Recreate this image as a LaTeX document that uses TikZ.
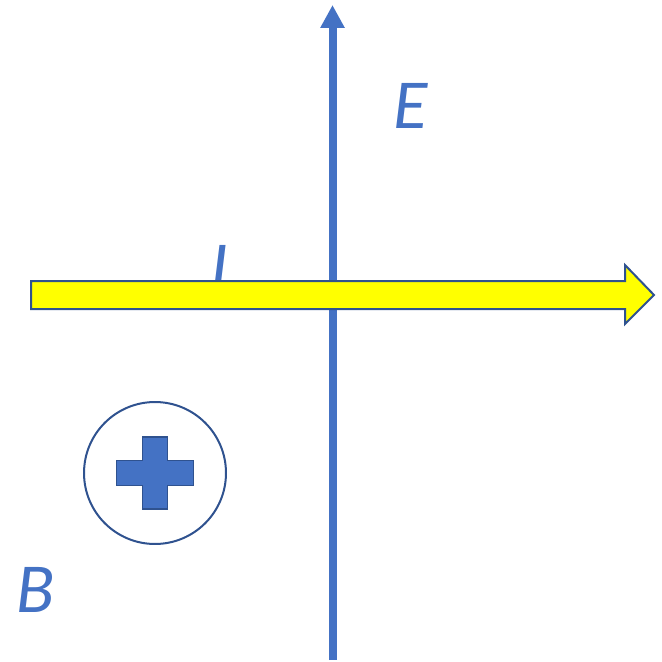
\documentclass[tikz,border=0pt]{standalone}
\usepackage{fontspec}
\setmainfont{Carlito}
\usepackage{xcolor}
\usepackage{tikz}
\usetikzlibrary{arrows.meta,positioning,calc}
\definecolor{fieldblue}{HTML}{4472C4}
\definecolor{edgeblue}{HTML}{2F528F}
\definecolor{currentyellow}{HTML}{FFFF00}

\tikzset{
  symbol/.style={inner sep=0pt, text=fieldblue, font=\fontsize{40}{48}\selectfont\itshape},
  efield/.style={draw=fieldblue, line width=0.16cm, -{Triangle[length=0.46cm, width=0.46cm]}},
  currentbar/.style={draw=edgeblue, fill=currentyellow, line width=0.04cm, line join=miter},
  bring/.style={draw=edgeblue, circle, line width=0.04cm, minimum size=2.84cm, inner sep=0pt},
  plusmark/.style={draw=edgeblue, fill=fieldblue, line width=0.03cm}
}

\begin{document}
\begin{tikzpicture}[x=0.02cm, y=-0.02cm]
      \useasboundingbox (0,0) rectangle (662,662);

      % electric field
      \coordinate (ebottom) at (332.5,660);
      \coordinate (etop) at (332.5,5);
      \draw[efield] (ebottom) -- (etop);
      \node[symbol] (elabel) at (411,106) {E};

      % current label, partly under the arrow
      \node[symbol] (ilabel) at (219,268) {I};

      % current arrow
      \draw[currentbar] (31,281) -- (625,281) -- (625,265) -- (654,295)
            -- (625,324) -- (625,309) -- (31,309) -- cycle;

      % magnetic field into the page
      \node[bring] (bfield) at (155,473) {};
      \draw[plusmark] ($(bfield)+(-12.5,-36)$) -- ++(25,0) -- ++(0,23.5) -- ++(26,0)
            -- ++(0,25) -- ++(-26,0) -- ++(0,23.5) -- ++(-25,0) -- ++(0,-23.5)
            -- ++(-26,0) -- ++(0,-25) -- ++(26,0) -- cycle;
      \node[symbol] (blabel) at (36,590) {B};
\end{tikzpicture}
\end{document}
